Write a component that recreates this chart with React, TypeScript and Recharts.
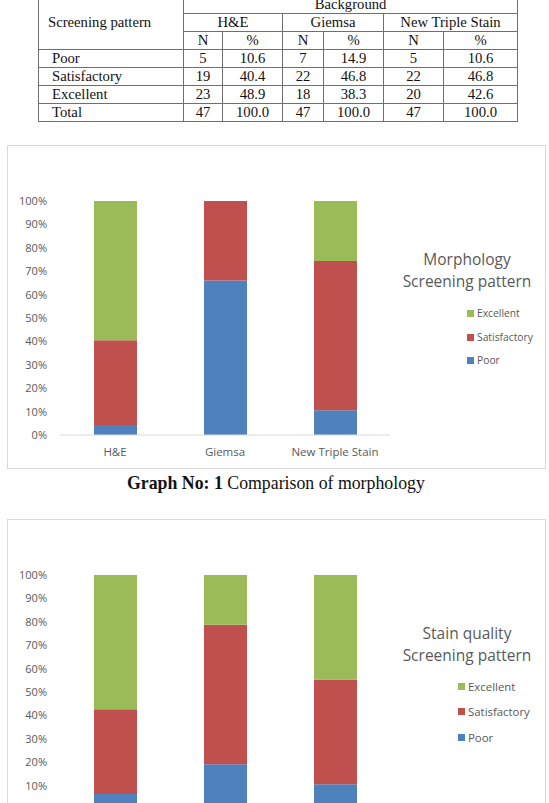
import React from 'react';
import { BarChart, Bar, XAxis, YAxis } from 'recharts';

// categories and tick values
const stains = ['H&E', 'Giemsa', 'New Triple Stain'];
const percentTicks = [0, 10, 20, 30, 40, 50, 60, 70, 80, 90, 100];

// Morphology screening pattern, % of 47 smears
const morphPoor = [4.3, 66.0, 10.6];
const morphSatisfactory = [36.2, 34.0, 63.8];
const morphExcellent = [59.5, 0, 25.6];

// Stain quality screening pattern, % of 47 smears
const stainPoor = [6.4, 19.1, 10.6];
const stainSatisfactory = [36.2, 59.6, 44.7];
const stainExcellent = [57.4, 21.3, 44.7];

// Background table
const tableRows = ['Poor', 'Satisfactory', 'Excellent', 'Total'];
const bgN = [
  [5, 7, 5],
  [19, 22, 22],
  [23, 18, 20],
  [47, 47, 47],
];
const bgPct = [
  ['10.6', '14.9', '10.6'],
  ['40.4', '46.8', '46.8'],
  ['48.9', '38.3', '42.6'],
  ['100.0', '100.0', '100.0'],
];

const series = [
  { key: 'Poor', color: '#4F81BD' },
  { key: 'Satisfactory', color: '#C0504D' },
  { key: 'Excellent', color: '#9BBB59' },
];

const buildRows = (poor: number[], sat: number[], exc: number[]) =>
  stains.map((name, i) => ({ name, Poor: poor[i], Satisfactory: sat[i], Excellent: exc[i] }));

const chartFont = '"Open Sans", sans-serif';
const textGrey = '#595959';

type LegendLayout = {
  squareLeft: number;
  itemTops: number[];
  itemFont: number;
};

function StackedPanel({
  top,
  rows,
  title,
  legend,
}: {
  top: number;
  rows: any[];
  title: string;
  legend: LegendLayout;
}) {
  return (
    <div
      style={{
        position: 'absolute',
        left: 7,
        top,
        width: 539,
        height: 324,
        boxSizing: 'border-box',
        border: '1px solid #D9D9D9',
        background: '#fff',
      }}
    >
      <div style={{ position: 'absolute', left: -1, top: -1 }}>
        <BarChart
          width={539}
          height={324}
          data={rows}
          margin={{ top: 56, right: 156, bottom: 0, left: 8 }}
          barSize={43}
        >
          <XAxis
            dataKey="name"
            height={34}
            tickSize={0}
            tickMargin={13}
            axisLine={{ stroke: '#D9D9D9' }}
            tick={{ fill: textGrey, fontSize: 11.5, fontFamily: chartFont }}
          />
          <YAxis
            width={45}
            domain={[0, 100]}
            ticks={percentTicks}
            tickFormatter={(v) => `${v}%`}
            tickSize={0}
            tickMargin={13}
            axisLine={false}
            tick={{ fill: textGrey, fontSize: 11, fontFamily: chartFont }}
          />
          {series.map((s) => (
            <Bar key={s.key} dataKey={s.key} stackId="a" fill={s.color} isAnimationActive={false} />
          ))}
        </BarChart>
      </div>
      {/* legend with its two-line title */}
      <div
        style={{
          position: 'absolute',
          left: 379,
          top: 102,
          width: 160,
          textAlign: 'center',
          fontFamily: chartFont,
          fontSize: 15.5,
          lineHeight: '22.4px',
          color: textGrey,
        }}
      >
        <div>{title}</div>
        <div>Screening pattern</div>
      </div>
      {[...series].reverse().map((s, i) => (
        <div
          key={s.key}
          style={{
            position: 'absolute',
            left: legend.squareLeft,
            top: legend.itemTops[i] - 8,
            height: 16,
            display: 'flex',
            alignItems: 'center',
            fontFamily: chartFont,
            fontSize: legend.itemFont,
            color: textGrey,
            whiteSpace: 'nowrap',
          }}
        >
          <span style={{ width: 7, height: 7, background: s.color, marginRight: 3, display: 'inline-block' }} />
          {s.key}
        </div>
      ))}
    </div>
  );
}

const cell: React.CSSProperties = {
  border: '1px solid #6f6f6f',
  padding: 0,
  height: 17,
  lineHeight: '17px',
  textAlign: 'center',
};

function BackgroundTable() {
  const colWidths = [145, 39, 60, 41, 60, 60, 74];
  return (
    <table
      style={{
        position: 'absolute',
        left: 38,
        top: -5,
        borderCollapse: 'collapse',
        tableLayout: 'fixed',
        width: 479,
        fontFamily: '"Liberation Serif", serif',
        fontSize: 14.7,
        color: '#111',
      }}
    >
      <colgroup>
        {colWidths.map((w, i) => (
          <col key={i} style={{ width: w }} />
        ))}
      </colgroup>
      <tbody>
        <tr>
          <td rowSpan={3} style={{ ...cell, textAlign: 'left', paddingLeft: 9 }}>
            Screening pattern
          </td>
          <td colSpan={6} style={cell}>
            Background
          </td>
        </tr>
        <tr>
          {stains.map((s) => (
            <td key={s} colSpan={2} style={cell}>
              {s}
            </td>
          ))}
        </tr>
        <tr>
          {stains.map((s) => (
            <React.Fragment key={s}>
              <td style={cell}>N</td>
              <td style={cell}>%</td>
            </React.Fragment>
          ))}
        </tr>
        {tableRows.map((label, r) => (
          <tr key={label}>
            <td style={{ ...cell, textAlign: 'left', paddingLeft: 13 }}>{label}</td>
            {stains.map((s, c) => (
              <React.Fragment key={s}>
                <td style={cell}>{bgN[r][c]}</td>
                <td style={cell}>{bgPct[r][c]}</td>
              </React.Fragment>
            ))}
          </tr>
        ))}
      </tbody>
    </table>
  );
}

export default function App() {
  return (
    <div
      style={{
        position: 'absolute',
        left: 0,
        top: 0,
        width: 549,
        height: 803,
        overflow: 'hidden',
        background: '#fff',
      }}
    >
      <BackgroundTable />
      <StackedPanel
        top={145}
        rows={buildRows(morphPoor, morphSatisfactory, morphExcellent)}
        title="Morphology"
        legend={{ squareLeft: 459, itemTops: [167.3, 191, 214.3], itemFont: 10.3 }}
      />
      <div
        style={{
          position: 'absolute',
          left: 127,
          top: 474,
          whiteSpace: 'nowrap',
          fontFamily: '"Liberation Serif", serif',
          fontSize: 17.8,
          lineHeight: '18px',
          color: '#111',
        }}
      >
        <b>Graph No: 1</b> Comparison of morphology
      </div>
      <StackedPanel
        top={519}
        rows={buildRows(stainPoor, stainSatisfactory, stainExcellent)}
        title="Stain quality"
        legend={{ squareLeft: 450, itemTops: [166.7, 191.7, 217], itemFont: 11.4 }}
      />
    </div>
  );
}
